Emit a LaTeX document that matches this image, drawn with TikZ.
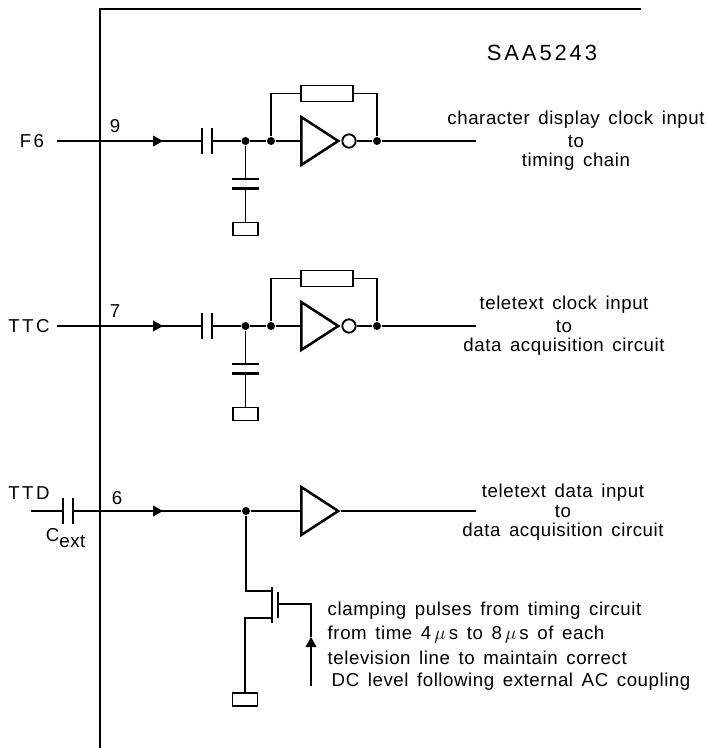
\documentclass[tikz,border=0pt]{standalone}
\usepackage{fontspec}
\setmainfont[LetterSpace=3,WordSpace=1.5]{Liberation Sans}
\newfontfamily\widefont[LetterSpace=13]{Liberation Sans}
\usetikzlibrary{shapes,shapes.geometric,arrows,arrows.meta,positioning,calc}
\begin{document}
\begin{tikzpicture}[
    x=0.75pt, y=-0.75pt,
    font=\fontsize{14pt}{16pt}\selectfont,
    line width=1.1pt,
    lbl/.style={inner sep=0pt, align=center},
    pinlbl/.style={lbl, font=\widefont\fontsize{14pt}{16pt}\selectfont},
    dotn/.style={circle, fill=black, inner sep=0pt, minimum size=6pt},
    buffer/.style={isosceles triangle, isosceles triangle apex angle=66, draw, line width=1.9pt, inner sep=0pt, minimum height=27pt, minimum width=36pt, anchor=lower side},
    bubble/.style={circle, draw, line width=1.4pt, inner sep=0pt, minimum size=10pt},
    resistor/.style={rectangle, draw, inner sep=0pt, minimum width=39pt, minimum height=12pt, fill=white},
    ground/.style={rectangle, draw, inner sep=0pt, minimum width=19pt, minimum height=9.5pt, fill=white},
    plate/.style={line width=1.9pt},
    arrow/.style={-{Triangle[length=7.5pt,width=8pt]}}
]
    \useasboundingbox (0,0) rectangle (707,748);
    % chip outline
    \coordinate (chipa) at (641,9);
    \coordinate (chipb) at (100,9);
    \coordinate (chipc) at (100,748);
    \draw[line width=1.7pt] (chipa) -- (chipb) -- (chipc);
    \node[pinlbl, font=\widefont\fontsize{16.5pt}{18pt}\selectfont] (chip) at (542,53) {SAA5243};

    % clocked inputs
    \foreach \name/\pin/\yy/\txta/\txtb/\txtc/\tx in {
        f/9/141/character display clock input/to/timing chain/576,
        t/7/326/teletext clock input/to/data acquisition circuit/564} {
        \coordinate (\name in) at (57,\yy);
        \coordinate (\name out) at (476,\yy);
        \coordinate (\name arr) at (163,\yy);
        \coordinate (\name capa) at (202,\yy);
        \coordinate (\name capb) at (212,\yy);
        \node[dotn] (\name j) at (245.5,\yy) {};
        \node[dotn] (\name k) at (271,\yy) {};
        \node[dotn] (\name m) at (377,\yy) {};
        \node[pinlbl] (\name pin) at (115,\yy-15) {\pin};
        \node[resistor] (\name res) at (327,\yy-47.5) {};
        \node[ground] (\name gnd) at (245.5,\yy+88) {};
        \node[buffer] (\name buf) at (300,\yy) {};
        \node[bubble] (\name bub) at (349,\yy) {};
        \coordinate (\name sa) at (245.5,\yy+38);
        \coordinate (\name sb) at (245.5,\yy+47.5);
        \draw (\name in) -- (\name capa) (\name capb) -- (\name j) -- (\name k) -- (\name buf.lower side);
        \draw[arrow] (\name in) -- (\name arr);
        \draw[plate] ([yshift=-9.75pt]\name capa) -- ([yshift=9.75pt]\name capa);
        \draw[plate] ([yshift=-9.75pt]\name capb) -- ([yshift=9.75pt]\name capb);
        \draw (\name j) -- (\name sa) (\name sb) -- (\name gnd);
        \draw[plate] ([xshift=-10pt]\name sa) -- ([xshift=10pt]\name sa);
        \draw[plate] ([xshift=-10pt]\name sb) -- ([xshift=10pt]\name sb);
        \draw (\name k) |- (\name res) (\name res) -| (\name m);
        \draw (\name bub) -- (\name m) -- (\name out);
        \node[lbl] at (\tx,\yy-21) {\txta};
        \node[lbl] at (\tx,\yy+1) {\txtb};
        \node[lbl] at (\tx,\yy+21) {\txtc};
    }
    \node[pinlbl] (fname) at (32,141) {F6};
    \node[pinlbl] (tname) at (29,326) {TTC};

    % data input
    \coordinate (din) at (31,511);
    \coordinate (dcapa) at (63,511);
    \coordinate (dcapb) at (73,511);
    \coordinate (darr) at (163,511);
    \coordinate (dout) at (476,511);
    \node[pinlbl] (dname) at (29,493) {TTD};
    \node[pinlbl] (cext) at (66,538) {C$_{\textrm{ext}}$};
    \node[pinlbl] (dpin) at (117,498) {6};
    \node[dotn] (dj) at (246,511) {};
    \node[buffer] (dbuf) at (300,511) {};
    \node[lbl] at (563,493) {teletext data input};
    \node[lbl] at (563,512) {to};
    \node[lbl] at (563,532) {data acquisition circuit};
    \draw (din) -- (dcapa) (dcapb) -- (dj) -- (dbuf.lower side);
    \draw[plate] ([yshift=-9.5pt]dcapa) -- ([yshift=9.5pt]dcapa);
    \draw[plate] ([yshift=-9.5pt]dcapb) -- ([yshift=9.5pt]dcapb);
    \draw[arrow] (dcapb) -- (darr);
    \draw (dbuf.apex) -- (dout);

    % clamping transistor
    \coordinate (drn) at (272,591);
    \coordinate (src) at (272,618);
    \coordinate (gat) at (278,604);
    \coordinate (gatb) at (311,604);
    \coordinate (clk) at (311,686);
    \coordinate (clkt) at (311,637);
    \node[ground] (dgnd) at (245,699.5) {};
    \draw (dj) |- (drn) (src) -| (dgnd);
    \draw[plate] (272,587) -- (272,623);
    \draw[plate] (278,592) -- (278,618);
    \draw (gat) -- (gatb) -- (clkt);
    \draw[arrow] (clk) -- (clkt);
    \node[lbl, anchor=west] at (327,611) {clamping pulses from timing circuit};
    \node[lbl, anchor=west] at (327,635) {from time 4\,$\mu$\,s to 8\,$\mu$\,s of each};
    \node[lbl, anchor=west] at (327,658) {television line to maintain correct};
    \node[lbl, anchor=west] at (331,682) {DC level following external AC coupling};
\end{tikzpicture}
\end{document}
